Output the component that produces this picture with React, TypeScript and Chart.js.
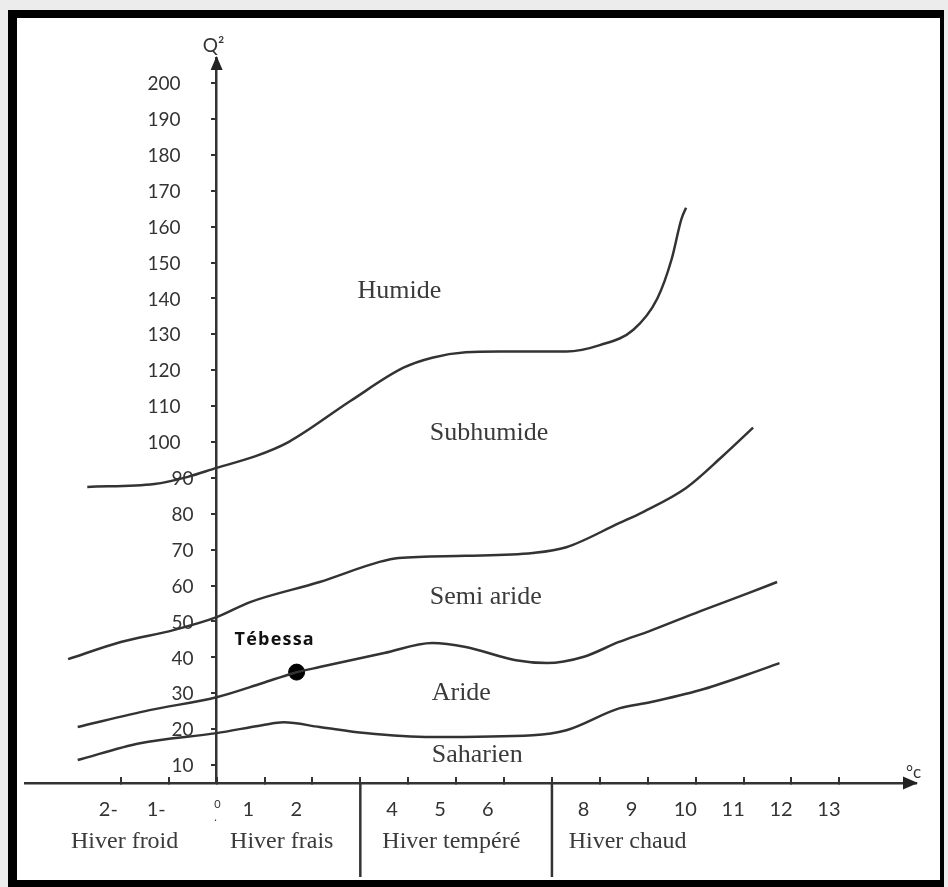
import React, { useEffect, useRef } from 'react';
import { Chart, registerables } from 'chart.js';

Chart.register(...registerables);

// Boundary curves of the Emberger climagram (x = m in °C, y = Q2)
const humidSubhumidX = [-2.7, -1.3, -0.6, 0, 0.8, 1.5, 2.8, 3.9, 4.5, 5.2, 5.9, 7.3, 8.0, 8.7, 9.2, 9.5, 9.7, 9.8];
const humidSubhumidY = [87.5, 88.3, 90.3, 92.8, 96, 100, 111.5, 120.7, 123.5, 125, 125.2, 125.2, 127, 131.3, 140, 151, 162, 165.3];

const subhumidSemiAridX = [-3.1, -2.0, -0.9, 0, 0.7, 2.15, 3.4, 3.8, 5.2, 6.6, 7.3, 8.4, 8.9, 9.8, 10.55, 11.2];
const subhumidSemiAridY = [39.5, 44.3, 47.6, 51.2, 55.4, 61, 66.6, 67.7, 68.3, 69.1, 70.7, 77.4, 80.5, 87.2, 95.9, 104];

const semiAridAridX = [-2.9, -1.4, 0, 0.95, 1.6, 2.15, 3.5, 4.5, 5.2, 6.25, 6.9, 7.65, 8.4, 9.05, 10.1, 11.1, 11.7];
const semiAridAridY = [20.6, 25.3, 28.9, 32.8, 35.6, 37.3, 41.2, 44, 42.9, 39.2, 38.4, 40.1, 44.3, 47.4, 52.9, 57.9, 61];

const aridSaharanX = [-2.9, -1.6, 0, 0.95, 1.4, 2.15, 3.1, 4.5, 6.6, 7.3, 8.4, 9.05, 10.1, 11.1, 11.75];
const aridSaharanY = [11.4, 16.1, 18.9, 21.1, 21.9, 20.6, 18.9, 17.8, 18.3, 19.7, 25.8, 27.5, 30.9, 35.3, 38.4];

const stationName = 'Tébessa';
const stationX = [1.67];
const stationY = [35.9];

const yTickValues = [10, 20, 30, 40, 50, 60, 70, 80, 90, 100, 110, 120, 130, 140, 150, 160, 170, 180, 190, 200];
const xTickValues = [-2, -1, 0, 1, 2, 3, 4, 5, 6, 7, 8, 9, 10, 11, 12, 13];
const xTickLabels = ['2-', '1-', '0', '1', '2', '', '4', '5', '6', '', '8', '9', '10', '11', '12', '13'];

const winterLabels = ['Hiver froid', 'Hiver frais', 'Hiver tempéré', 'Hiver chaud'];
const winterCenters = [-1.92, 1.36, 4.9, 8.58];
const winterDividers = [3, 7];

const zoneLabels = ['Humide', 'Subhumide', 'Semi aride', 'Aride', 'Saharien'];
const zoneX = [2.94, 4.45, 4.45, 4.49, 4.49];
const zoneY = [141.9, 102.5, 56.8, 30.0, 12.8];

const INK = '#333333';
const SERIF = '"Liberation Serif", "DejaVu Serif", serif';
const SANS = 'Lato, "Open Sans", sans-serif';

const toPoints = (xs: number[], ys: number[]) => xs.map((x, i) => ({ x, y: ys[i] }));

const curve = (xs: number[], ys: number[]) => ({
  data: toPoints(xs, ys),
  borderColor: INK,
  borderWidth: 2.5,
  pointRadius: 0,
  fill: false,
  cubicInterpolationMode: 'monotone' as const,
});

const decorPlugin = {
  id: 'decor',
  beforeDraw(chart: any) {
    const { ctx, width, height } = chart;
    ctx.save();
    ctx.fillStyle = '#ececec';
    ctx.fillRect(0, 0, width, height);
    ctx.fillStyle = '#000';
    ctx.fillRect(8, 10, 936, 877);
    ctx.fillStyle = '#fff';
    ctx.fillRect(17, 18, 923, 862);
    ctx.restore();
  },
  afterDraw(chart: any) {
    const { ctx } = chart;
    const xs = chart.scales.x;
    const ys = chart.scales.y;
    const x0 = xs.getPixelForValue(0);
    const axisY = ys.bottom;
    ctx.save();
    // y tick labels, taken from the y scale's own ticks
    ctx.fillStyle = INK;
    ctx.font = `19px ${SANS}`;
    ctx.textAlign = 'right';
    ctx.textBaseline = 'middle';
    ys.ticks.forEach((t: any) => {
      const lab = String(t.value);
      const gap = lab.length >= 3 ? 36 : 23;
      ctx.fillText(lab, x0 - gap, ys.getPixelForValue(t.value) + 1);
    });
    ctx.fillStyle = '#222';
    // y arrow
    ctx.beginPath();
    ctx.moveTo(x0, ys.top - 2);
    ctx.lineTo(x0 - 6, ys.top + 12);
    ctx.lineTo(x0 + 6, ys.top + 12);
    ctx.closePath();
    ctx.fill();
    // x arrow
    ctx.beginPath();
    ctx.moveTo(xs.right + 2, axisY);
    ctx.lineTo(xs.right - 13, axisY - 6.5);
    ctx.lineTo(xs.right - 13, axisY + 6.5);
    ctx.closePath();
    ctx.fill();
    // axis titles
    ctx.fillStyle = INK;
    ctx.font = `19px ${SANS}`;
    ctx.textAlign = 'center';
    ctx.textBaseline = 'alphabetic';
    ctx.fillText('Q²', x0 - 3, ys.top - 6);
    ctx.textAlign = 'left';
    ctx.font = `17px ${SANS}`;
    ctx.fillText('°c', xs.right - 10, axisY - 5);
    // winter dividers
    ctx.strokeStyle = INK;
    ctx.lineWidth = 2.5;
    winterDividers.forEach((v) => {
      const px = xs.getPixelForValue(v);
      ctx.beginPath();
      ctx.moveTo(px, axisY);
      ctx.lineTo(px, axisY + 94);
      ctx.stroke();
    });
    // winter labels
    ctx.font = `24px ${SERIF}`;
    ctx.textAlign = 'center';
    ctx.fillStyle = '#3a3a3a';
    winterLabels.forEach((t, i) => {
      ctx.fillText(t, xs.getPixelForValue(winterCenters[i]), axisY + 65);
    });
    // zone labels
    ctx.font = `26px ${SERIF}`;
    ctx.textAlign = 'left';
    ctx.textBaseline = 'middle';
    zoneLabels.forEach((t, i) => {
      ctx.fillText(t, xs.getPixelForValue(zoneX[i]), ys.getPixelForValue(zoneY[i]));
    });
    // station label
    ctx.fillStyle = '#111';
    ctx.font = `bold 18px "Open Sans", Lato, sans-serif`;
    try {
      (ctx as any).letterSpacing = '1.2px';
    } catch (e) {
      /* ignore */
    }
    const sx = xs.getPixelForValue(stationX[0]);
    const sy = ys.getPixelForValue(stationY[0]);
    ctx.fillText(stationName, sx - 62, sy - 32);
    ctx.restore();
  },
};

export default function App() {
  const canvasRef = useRef<HTMLCanvasElement | null>(null);

  useEffect(() => {
    document.body.style.margin = '0';
    const canvas = canvasRef.current;
    if (!canvas) return;
    const chart = new Chart(canvas, {
      type: 'line',
      data: {
        datasets: [
          curve(humidSubhumidX, humidSubhumidY),
          curve(subhumidSemiAridX, subhumidSemiAridY),
          curve(semiAridAridX, semiAridAridY),
          curve(aridSaharanX, aridSaharanY),
          {
            data: toPoints(stationX, stationY),
            showLine: false,
            pointRadius: 8,
            pointBackgroundColor: '#000',
            pointBorderColor: '#000',
            borderColor: '#000',
          } as any,
        ],
      },
      options: {
        animation: false,
        responsive: false,
        devicePixelRatio: 1,
        layout: { padding: { left: 25, right: 32, top: 58, bottom: 44 } },
        plugins: { legend: { display: false }, tooltip: { enabled: false } },
        scales: {
          x: {
            type: 'linear',
            min: -4,
            max: 14.6,
            position: 'bottom',
            afterBuildTicks: (s: any) => {
              s.ticks = xTickValues.map((v) => ({ value: v }));
            },
            afterFit: (s: any) => {
              s.height = 60;
            },
            grid: { drawOnChartArea: false, tickLength: -6, color: INK, lineWidth: 2 },
            border: { color: INK, width: 2.5 },
            ticks: {
              autoSkip: false,
              maxRotation: 0,
              minRotation: 0,
              align: 'start',
              labelOffset: -22,
              padding: 21,
              color: INK,
              font: (c: any) =>
                c.tick && c.tick.value === 0 ? { family: SANS, size: 11 } : { family: SANS, size: 20 },
              callback: (v: any) => {
                const i = xTickValues.indexOf(Number(v));
                const lab = i >= 0 ? xTickLabels[i] : '';
                return Number(v) === 0 ? ['       ' + lab, '       .'] : lab;
              },
            },
          },
          y: {
            type: 'linear',
            min: 5,
            max: 207,
            position: { x: 0 } as any,
            afterBuildTicks: (s: any) => {
              s.ticks = yTickValues.map((v) => ({ value: v }));
            },
            grid: { drawOnChartArea: false, tickLength: 4, color: INK, lineWidth: 2 },
            border: { color: INK, width: 2.5 },
            ticks: {
              display: false,
            },
          },
        },
      },
      plugins: [decorPlugin],
    });
    return () => chart.destroy();
  }, []);

  return <canvas ref={canvasRef} width={948} height={887} style={{ display: 'block' }} />;
}
